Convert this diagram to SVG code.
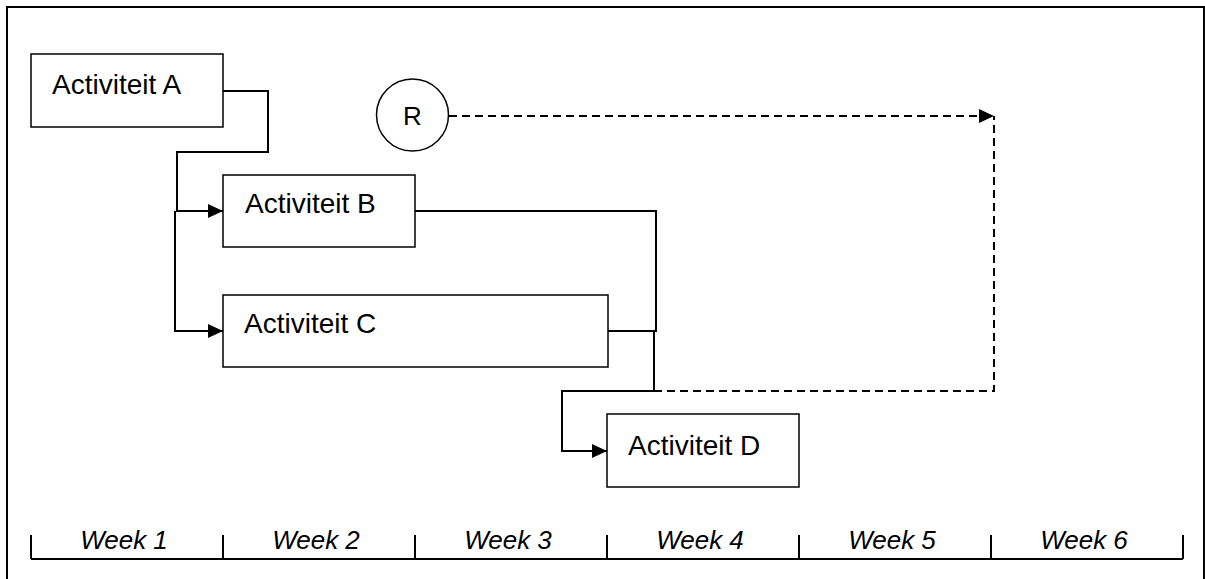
<svg xmlns="http://www.w3.org/2000/svg" width="1205" height="579" viewBox="0 0 1205 579">
<style>
.box{fill:#fff;stroke:#000;stroke-width:1.5}
.lbl{font-family:"Liberation Sans",Arial,sans-serif;font-size:28px;fill:#000}
.wk{font-family:"Liberation Sans",Arial,sans-serif;font-size:26px;font-style:italic;fill:#000}
.con{fill:none;stroke:#000;stroke-width:2}
.dash{fill:none;stroke:#000;stroke-width:2;stroke-dasharray:8,5}
</style>
<defs>
<marker id="arr" markerWidth="16" markerHeight="14" refX="15" refY="7" orient="auto" markerUnits="userSpaceOnUse">
<path d="M0,0 L15,7 L0,14 z" fill="#000"/>
</marker>
</defs>
<rect x="0" y="0" width="1205" height="579" fill="#fff"/>
<path d="M7,579 V7 H1204 V579" fill="none" stroke="#000" stroke-width="2"/>
<g id="connectors">
<path class="con" d="M223,91 H268 V152 H177 V211 H223" marker-end="url(#arr)"/>
<path class="con" d="M175,211 V331 H223" marker-end="url(#arr)"/>
<path class="con" d="M415,211 H656 V331 H608"/>
<path class="con" d="M654,331 V391 H562 V451 H607" marker-end="url(#arr)"/>
<path class="dash" d="M654,391 H994 V116"/>
<path class="dash" d="M449,116 H994" marker-end="url(#arr)"/>
</g>
<g id="nodeA"><rect class="box" x="31" y="54" width="192" height="73"/><text class="lbl" x="52" y="94">Activiteit A</text></g>
<g id="nodeB"><rect class="box" x="223" y="175" width="192" height="72"/><text class="lbl" x="245" y="213">Activiteit B</text></g>
<g id="nodeC"><rect class="box" x="223" y="295" width="385" height="72"/><text class="lbl" x="244" y="333">Activiteit C</text></g>
<g id="nodeD"><rect class="box" x="607" y="414" width="192" height="73"/><text class="lbl" x="628" y="455">Activiteit D</text></g>
<g id="nodeR"><circle cx="412.5" cy="115" r="36" fill="#fff" stroke="#000" stroke-width="1.5"/><text class="lbl" x="412.5" y="125" text-anchor="middle" style="font-size:26px">R</text></g>
<g id="timeline">
<path d="M31,559 H1183 M31,535 V559 M223,535 V559 M415,535 V559 M607,535 V559 M799,535 V559 M991,535 V559 M1183,535 V559" fill="none" stroke="#000" stroke-width="2"/>
<text class="wk" x="124" y="549" text-anchor="middle">Week 1</text>
<text class="wk" x="316" y="549" text-anchor="middle">Week 2</text>
<text class="wk" x="508" y="549" text-anchor="middle">Week 3</text>
<text class="wk" x="700" y="549" text-anchor="middle">Week 4</text>
<text class="wk" x="892" y="549" text-anchor="middle">Week 5</text>
<text class="wk" x="1084" y="549" text-anchor="middle">Week 6</text>
</g>
</svg>
